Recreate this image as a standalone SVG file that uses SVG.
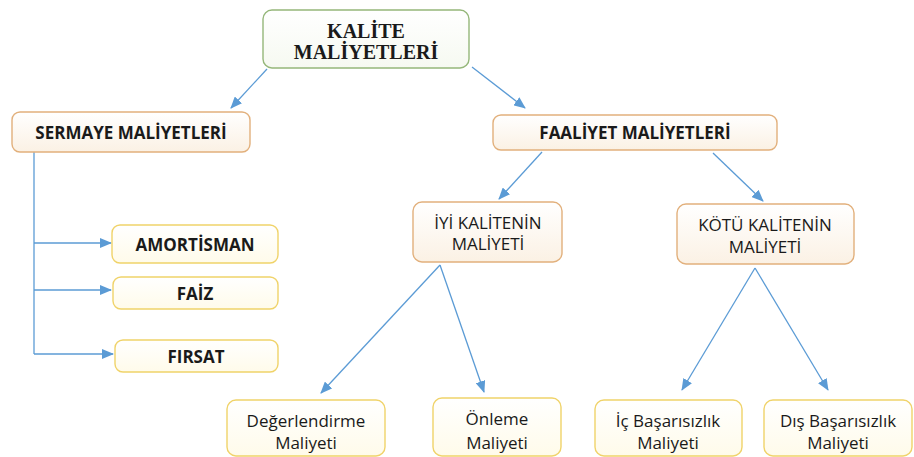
<svg xmlns="http://www.w3.org/2000/svg" width="914" height="457" viewBox="0 0 914 457">
<defs>
<linearGradient id="gO" x1="0" y1="0" x2="0" y2="1"><stop offset="0" stop-color="#ffffff"/><stop offset="1" stop-color="#fbf1e4"/></linearGradient>
<linearGradient id="gY" x1="0" y1="0" x2="0" y2="1"><stop offset="0" stop-color="#ffffff"/><stop offset="1" stop-color="#fffbea"/></linearGradient>
<linearGradient id="gG" x1="0" y1="0" x2="0" y2="1"><stop offset="0" stop-color="#ffffff"/><stop offset="1" stop-color="#f6f9f1"/></linearGradient>
<marker id="arr" markerUnits="userSpaceOnUse" markerWidth="12" markerHeight="10" refX="11" refY="5" orient="auto"><path d="M0,0 L12,5 L0,10 Z" fill="#5b9bd5"/></marker>
<style>
.bo{fill:url(#gO);stroke:#e2b07c;stroke-width:1.4}
.by{fill:url(#gY);stroke:#f0d36a;stroke-width:1.4}
.bg{fill:url(#gG);stroke:#95b77a;stroke-width:1.4}
.c{fill:none;stroke:#5b9bd5;stroke-width:1.3}
.t{font-family:"Open Sans","Liberation Sans",sans-serif;font-size:17px;fill:#1a1a1a;text-anchor:middle;dominant-baseline:central}
.tb{font-weight:bold}
.ts{font-family:"Liberation Serif","Times New Roman",serif;font-size:20px;font-weight:bold;fill:#1a1a1a;text-anchor:middle}
</style>
</defs>
<rect width="914" height="457" fill="#ffffff"/>
<g id="connectors">
<line class="c" x1="267" y1="69" x2="231" y2="108" marker-end="url(#arr)"/>
<line class="c" x1="472" y1="67" x2="525" y2="108" marker-end="url(#arr)"/>
<line class="c" x1="542" y1="152" x2="499" y2="199" marker-end="url(#arr)"/>
<line class="c" x1="713" y1="153" x2="763" y2="201" marker-end="url(#arr)"/>
<line class="c" x1="440" y1="265" x2="321" y2="393" marker-end="url(#arr)"/>
<line class="c" x1="440" y1="265" x2="484" y2="392" marker-end="url(#arr)"/>
<line class="c" x1="755" y1="268" x2="682" y2="390" marker-end="url(#arr)"/>
<line class="c" x1="755" y1="268" x2="828" y2="390" marker-end="url(#arr)"/>
<polyline class="c" points="34,152 34,354"/>
<line class="c" x1="34" y1="243" x2="111" y2="243" marker-end="url(#arr)"/>
<line class="c" x1="34" y1="290" x2="111" y2="290" marker-end="url(#arr)"/>
<line class="c" x1="34" y1="354" x2="113" y2="354" marker-end="url(#arr)"/>
</g>
<g id="kalite">
<rect class="bg" x="263" y="10" width="206" height="58" rx="9"/>
<text class="ts" x="366" y="38">KALİTE</text>
<text class="ts" x="366" y="59">MALİYETLERİ</text>
</g>
<g id="sermaye">
<rect class="bo" x="12" y="112" width="238" height="40" rx="8"/>
<text class="t tb" x="131" y="132">SERMAYE MALİYETLERİ</text>
</g>
<g id="faaliyet">
<rect class="bo" x="493" y="115" width="284" height="35" rx="8"/>
<text class="t tb" x="635" y="132">FAALİYET MALİYETLERİ</text>
</g>
<g id="iyi">
<rect class="bo" x="413" y="202" width="149" height="60" rx="9"/>
<text class="t" x="488" y="222">İYİ KALİTENİN</text>
<text class="t" x="488" y="243">MALİYETİ</text>
</g>
<g id="kotu">
<rect class="bo" x="677" y="204" width="177" height="60" rx="9"/>
<text class="t" x="765" y="224">KÖTÜ KALİTENİN</text>
<text class="t" x="765" y="246">MALİYETİ</text>
</g>
<g id="amortisman">
<rect class="by" x="112" y="225" width="166" height="38" rx="8"/>
<text class="t tb" x="195" y="244">AMORTİSMAN</text>
</g>
<g id="faiz">
<rect class="by" x="113" y="277" width="165" height="32" rx="8"/>
<text class="t tb" x="195" y="293">FAİZ</text>
</g>
<g id="firsat">
<rect class="by" x="115" y="340" width="163" height="32" rx="8"/>
<text class="t tb" x="196" y="356">FIRSAT</text>
</g>
<g id="degerlendirme">
<rect class="by" x="227" y="400" width="158" height="56" rx="9"/>
<text class="t" x="306" y="420">Değerlendirme</text>
<text class="t" x="306" y="442">Maliyeti</text>
</g>
<g id="onleme">
<rect class="by" x="433" y="398" width="128" height="58" rx="9"/>
<text class="t" x="497" y="418">Önleme</text>
<text class="t" x="497" y="442">Maliyeti</text>
</g>
<g id="ic">
<rect class="by" x="595" y="400" width="147" height="56" rx="9"/>
<text class="t" x="668" y="420">İç Başarısızlık</text>
<text class="t" x="668" y="442">Maliyeti</text>
</g>
<g id="dis">
<rect class="by" x="764" y="400" width="148" height="56" rx="9"/>
<text class="t" x="838" y="420">Dış Başarısızlık</text>
<text class="t" x="838" y="442">Maliyeti</text>
</g>
</svg>
